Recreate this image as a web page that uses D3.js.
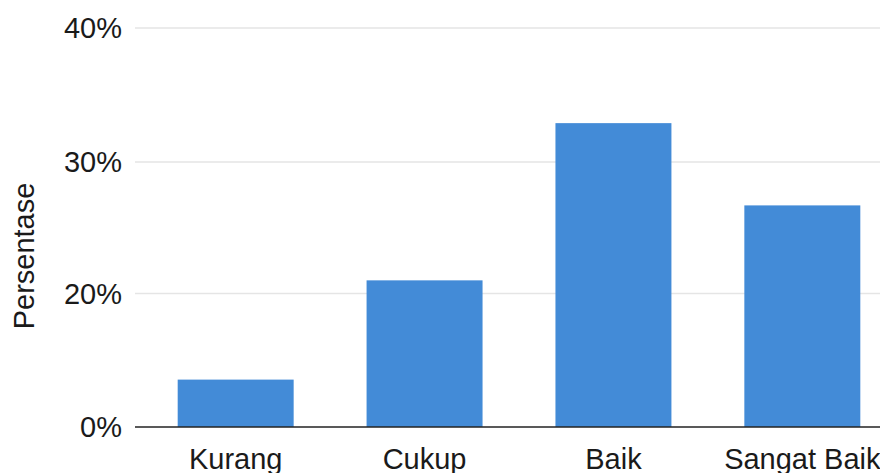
<!DOCTYPE html>
<html>
<head>
<meta charset="utf-8">
<script src="https://cdn.jsdelivr.net/npm/d3@7"></script>
<style>
  body { margin: 0; background: #fff; }
  text { font-family: "Liberation Sans", Arial, sans-serif; fill: #1a1a1a; }
</style>
</head>
<body>
<div id="chart"></div>
<script>
// data
var categories = ["Kurang", "Cukup", "Baik", "Sangat Baik"];
var values = [7.1, 21.0, 32.9, 26.7];
var tickValues = [0, 20, 30, 40];

var width = 880, height = 473;

var svg = d3.select("#chart")
    .append("svg")
        .attr("width", width)
        .attr("height", height);

// x: band scale, runs past the right edge like the original
var x = d3.scaleBand()
    .domain(categories)
    .range([135, 903])
    .paddingInner(0.386)
    .paddingOuter(0.226);

// y: the axis ticks are evenly spaced in the picture, so a polylinear scale
var y = d3.scaleLinear()
    .domain(tickValues)
    .range([427, 293.5, 162, 28]);

// gridlines
svg.append("g")
    .selectAll("line")
    .data(tickValues.filter(function(d) { return d > 0; }))
    .join("line")
        .attr("x1", 135)
        .attr("x2", width)
        .attr("y1", function(d) { return y(d); })
        .attr("y2", function(d) { return y(d); })
        .attr("stroke", "#e5e5e5")
        .attr("stroke-width", 1.5);

// y tick labels
svg.append("g")
    .selectAll("text")
    .data(tickValues)
    .join("text")
        .attr("x", 122)
        .attr("y", function(d) { return y(d); })
        .attr("dy", "0.35em")
        .attr("text-anchor", "end")
        .style("font-size", "29px")
        .text(function(d) { return d + "%"; });

// bars
svg.append("g")
    .selectAll("rect")
    .data(values)
    .join("rect")
        .attr("x", function(d, i) { return x(categories[i]); })
        .attr("y", function(d) { return y(d); })
        .attr("width", x.bandwidth())
        .attr("height", function(d) { return y(0) - y(d); })
        .attr("fill", "#438bd7");

// baseline
svg.append("line")
    .attr("x1", 135)
    .attr("x2", width)
    .attr("y1", y(0))
    .attr("y2", y(0))
    .attr("stroke", "#222")
    .attr("stroke-width", 1.5);

// x labels
svg.append("g")
    .selectAll("text")
    .data(categories)
    .join("text")
        .attr("x", function(d) { return x(d) + x.bandwidth() / 2; })
        .attr("y", 469)
        .attr("text-anchor", "middle")
        .style("font-size", "29px")
        .text(function(d) { return d; });

// y title
svg.append("text")
    .attr("transform", "translate(34,256) rotate(-90)")
    .attr("text-anchor", "middle")
    .style("font-size", "29px")
    .text("Persentase");
</script>
</body>
</html>
